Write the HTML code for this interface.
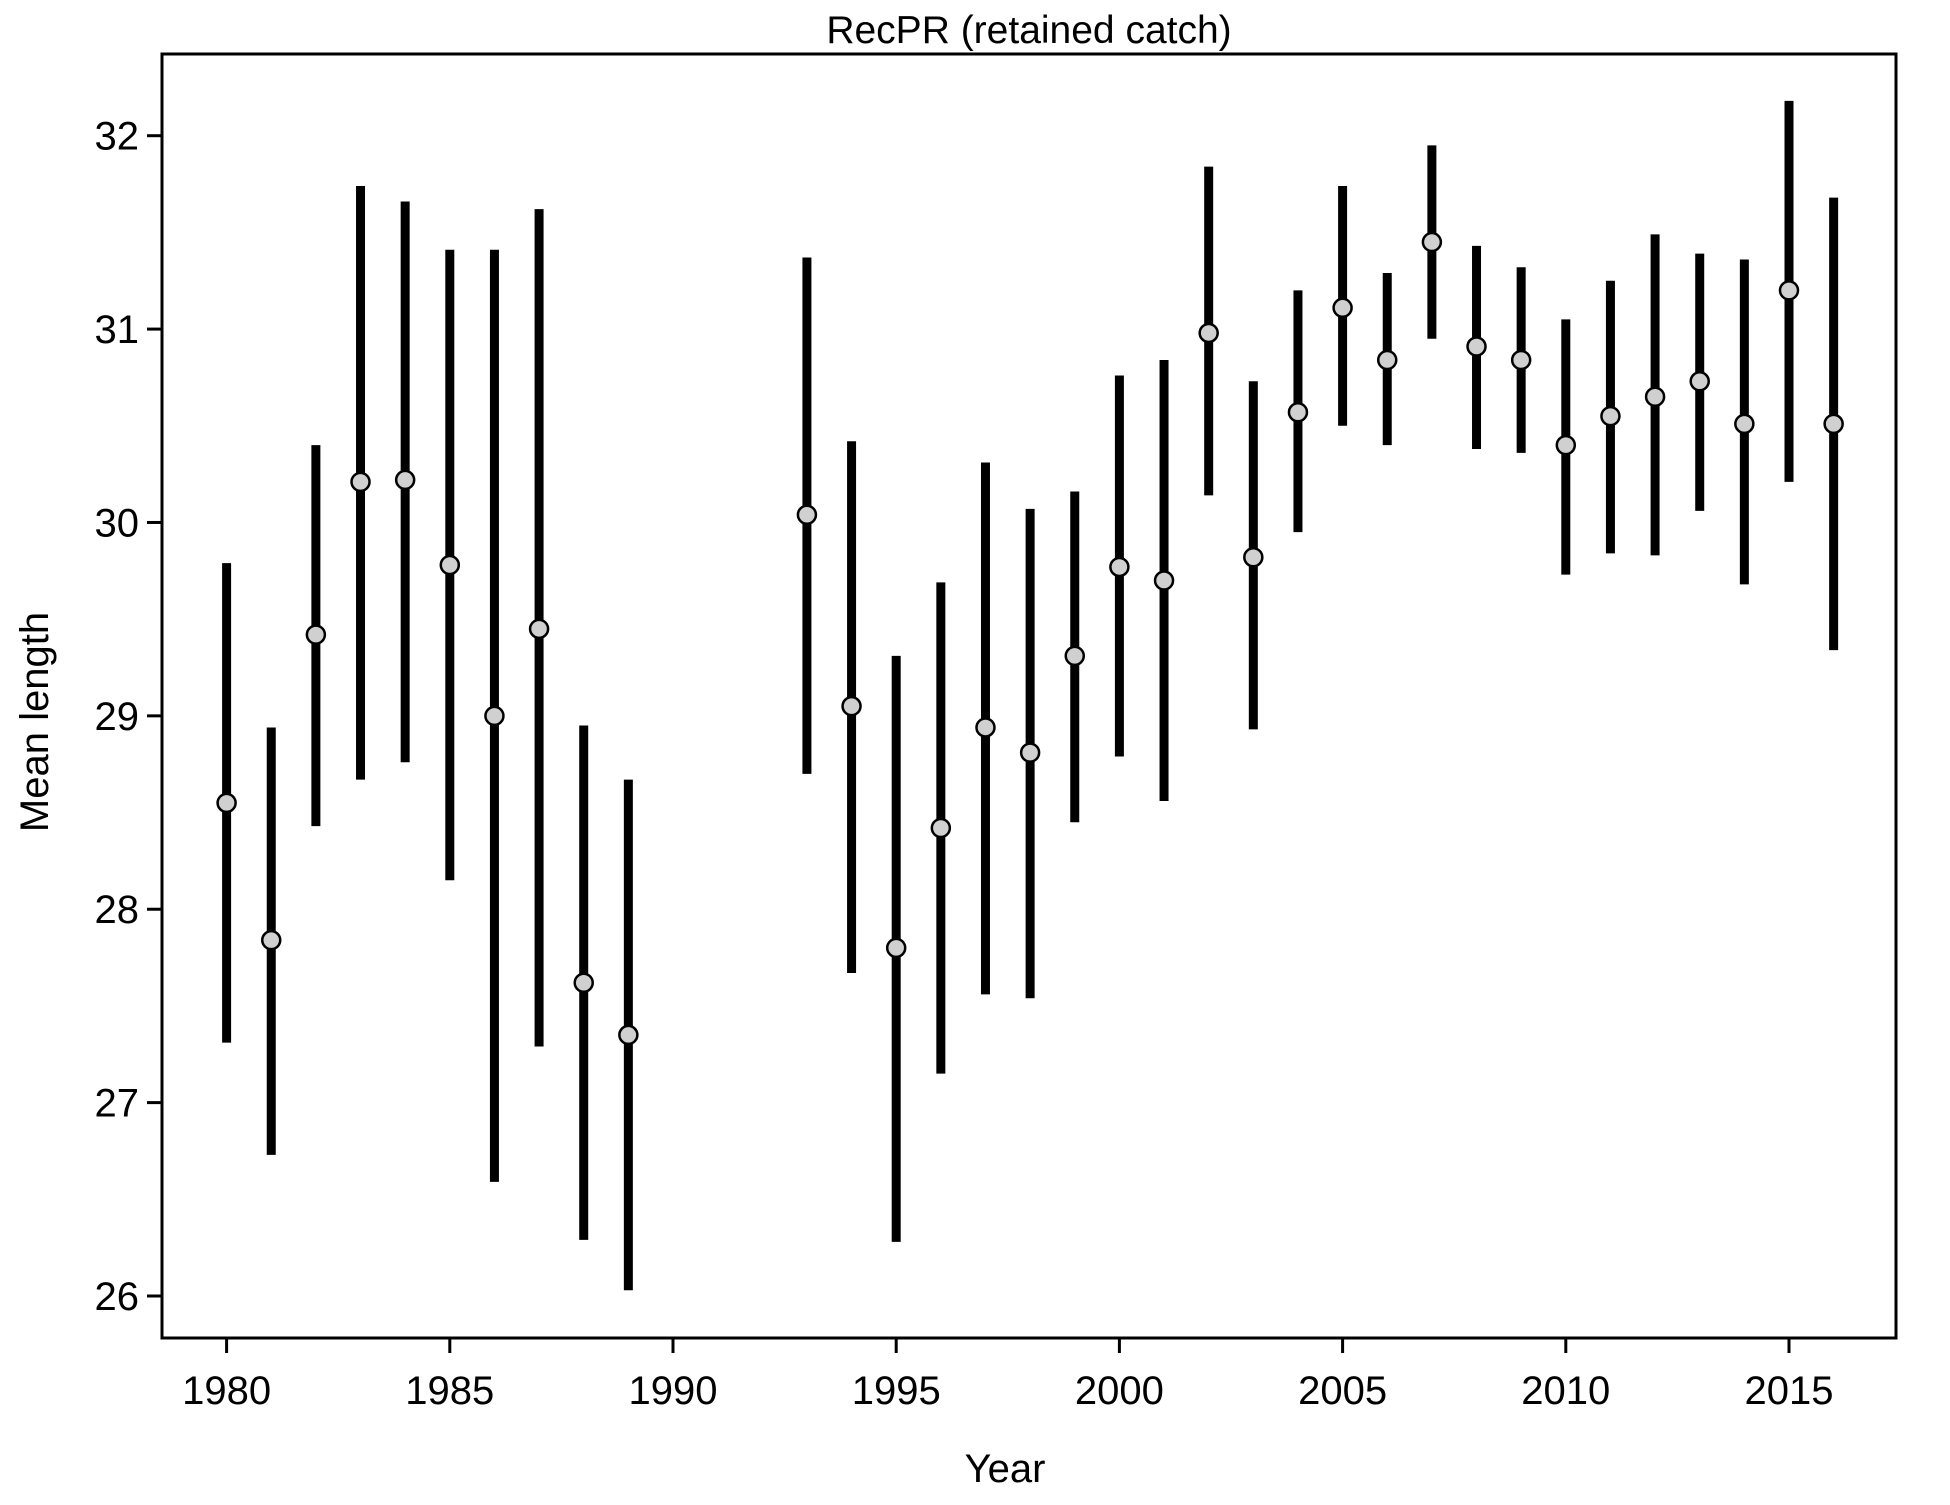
<!DOCTYPE html>
<html><head><meta charset="utf-8"><style>
html,body{margin:0;padding:0;background:#fff}
svg text{font-family:"Liberation Sans",Arial,sans-serif;fill:#000}
</style></head><body>
<svg id="chart" width="1950" height="1500" xmlns="http://www.w3.org/2000/svg">
<text x="1029" y="43" font-size="39" text-anchor="middle">RecPR (retained catch)</text>
<rect x="162" y="54" width="1734" height="1284" fill="none" stroke="#000" stroke-width="3"/>
<g id="axes"></g>
<g id="marks"></g>
<text x="1005" y="1482" font-size="40" text-anchor="middle">Year</text>
<text transform="translate(48,722) rotate(-90)" font-size="40" text-anchor="middle">Mean length</text>
</svg>
<script>
const years=[1980,1981,1982,1983,1984,1985,1986,1987,1988,1989,1993,1994,1995,1996,1997,1998,1999,2000,2001,2002,2003,2004,2005,2006,2007,2008,2009,2010,2011,2012,2013,2014,2015,2016];
const means=[28.55,27.84,29.42,30.21,30.22,29.78,29.00,29.45,27.62,27.35,30.04,29.05,27.80,28.42,28.94,28.81,29.31,29.77,29.70,30.98,29.82,30.57,31.11,30.84,31.45,30.91,30.84,30.40,30.55,30.65,30.73,30.51,31.20,30.51];
const lows=[27.31,26.73,28.43,28.67,28.76,28.15,26.59,27.29,26.29,26.03,28.70,27.67,26.28,27.15,27.56,27.54,28.45,28.79,28.56,30.14,28.93,29.95,30.50,30.40,30.95,30.38,30.36,29.73,29.84,29.83,30.06,29.68,30.21,29.34];
const highs=[29.79,28.94,30.40,31.74,31.66,31.41,31.41,31.62,28.95,28.67,31.37,30.42,29.31,29.69,30.31,30.07,30.16,30.76,30.84,31.84,30.73,31.20,31.74,31.29,31.95,31.43,31.32,31.05,31.25,31.49,31.39,31.36,32.18,31.68];
const xTicks=[1980,1985,1990,1995,2000,2005,2010,2015];
const yTicks=[26,27,28,29,30,31,32];

const NS="http://www.w3.org/2000/svg";
function X(v){return 226.6+(v-1980)*(1789-226.6)/35;}
function Y(v){return 1296-(v-26)*(1296-135.7)/6;}
function mk(tag,attrs,parent){const e=document.createElementNS(NS,tag);for(const k in attrs)e.setAttribute(k,attrs[k]);parent.appendChild(e);return e;}
const axes=document.getElementById('axes'),marks=document.getElementById('marks');
xTicks.forEach(t=>{
  const l=mk('line',{x1:X(t),x2:X(t),y1:1338,y2:1353,stroke:'#000','stroke-width':3},axes);
  
  
  const tx=mk('text',{x:X(t),y:1404,'font-size':40,'text-anchor':'middle'},axes);
  tx.textContent=t;
  
  
});
yTicks.forEach(t=>{
  const l=mk('line',{x1:147,x2:162,y1:Y(t),y2:Y(t),stroke:'#000','stroke-width':3},axes);
  
  
  const tx=mk('text',{x:139,y:Y(t)+14,'font-size':40,'text-anchor':'end'},axes);
  tx.textContent=t;
  
  
});
years.forEach((yr,i)=>{
  const b=mk('line',{x1:X(yr),x2:X(yr),y1:Y(lows[i]),y2:Y(highs[i]),stroke:'#000','stroke-width':9},marks);
  
  
  const c=mk('circle',{cx:X(yr),cy:Y(means[i]),r:9,fill:'#d0d0d0',stroke:'#000','stroke-width':2.5},marks);
  
  
});
</script>
</body></html>
